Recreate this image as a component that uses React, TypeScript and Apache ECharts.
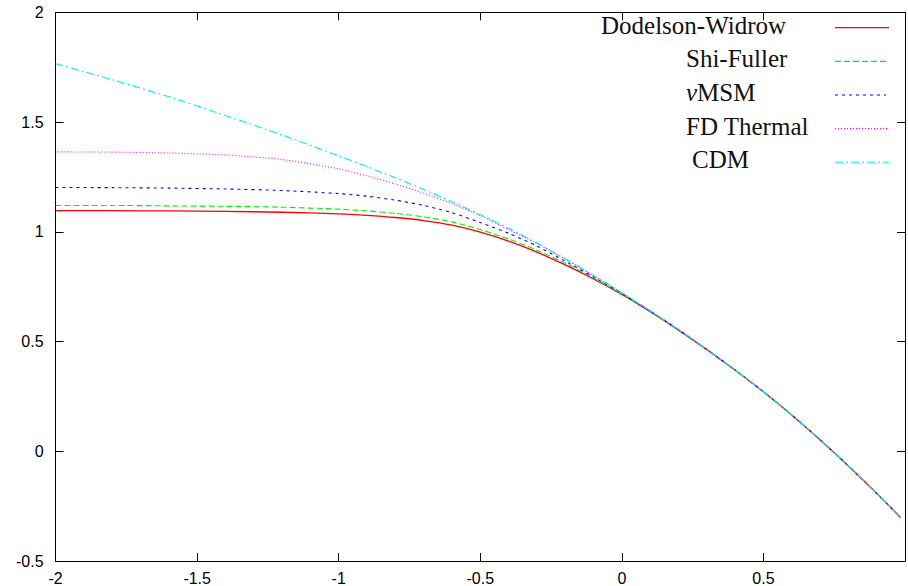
import React, { useEffect, useRef } from "react";
import * as echarts from "echarts";

const xs = [-2, -1.8, -1.6, -1.4, -1.2, -1.0, -0.9, -0.8, -0.7, -0.6, -0.5, -0.4, -0.3, -0.2, -0.1, 0, 0.1, 0.2, 0.3, 0.4, 0.5, 0.6, 0.7, 0.8, 0.9, 0.985];

const dodelsonWidrow = [1.096, 1.096, 1.095, 1.093, 1.089, 1.082, 1.075, 1.065, 1.051, 1.03, 0.998, 0.957, 0.907, 0.849, 0.785, 0.714, 0.636, 0.552, 0.463, 0.369, 0.271, 0.165, 0.052, -0.067, -0.192, -0.303];
const shiFuller = [1.12, 1.12, 1.118, 1.116, 1.112, 1.103, 1.095, 1.084, 1.068, 1.045, 1.01, 0.967, 0.916, 0.857, 0.79, 0.717, 0.638, 0.553, 0.464, 0.37, 0.271, 0.165, 0.052, -0.067, -0.192, -0.303];
const nuMSM = [1.202, 1.201, 1.199, 1.195, 1.188, 1.174, 1.162, 1.144, 1.12, 1.087, 1.042, 0.993, 0.935, 0.866, 0.794, 0.719, 0.639, 0.554, 0.464, 0.37, 0.271, 0.165, 0.052, -0.067, -0.192, -0.303];
const fdThermal = [1.364, 1.363, 1.359, 1.35, 1.329, 1.287, 1.255, 1.218, 1.176, 1.128, 1.074, 1.01, 0.946, 0.876, 0.8, 0.722, 0.64, 0.554, 0.464, 0.37, 0.271, 0.165, 0.052, -0.067, -0.192, -0.303];
const cdm = [1.766, 1.693, 1.615, 1.53, 1.441, 1.346, 1.297, 1.246, 1.193, 1.137, 1.078, 1.016, 0.949, 0.877, 0.801, 0.722, 0.64, 0.554, 0.464, 0.37, 0.271, 0.165, 0.052, -0.067, -0.192, -0.303];

const seriesNames = ["Dodelson-Widrow", "Shi-Fuller", "νMSM", "FD Thermal", "CDM"];
const seriesValues = [dodelsonWidrow, shiFuller, nuMSM, fdThermal, cdm];
const seriesColors = ["#ff0000", "#00f000", "#0000ff", "#ff00ff", "#00f0f0"];
const seriesDash: any[] = ["solid", [6, 3], [3, 4], [1, 2], [8, 3, 2, 3]];
const seriesWidths = [1.3, 1.1, 1.1, 1.1, 1.1];

const legendTextX = [601, 686, 686, 686, 692];
const legendLineX1 = [835, 835, 835, 835, 835];
const legendLineX2 = [889, 889, 886, 889, 889];

export default function App() {
  const ref = useRef<HTMLDivElement>(null);
  useEffect(() => {
    if (!ref.current) return;
    const chart = echarts.init(ref.current, null, { renderer: "svg" });

    const series = seriesValues.map((vals, i) => ({
      name: seriesNames[i],
      type: "line",
      xAxisIndex: 0,
      yAxisIndex: 0,
      data: xs.map((x, j) => [x, vals[j]]),
      showSymbol: false,
      smooth: 0.25,
      lineStyle: { color: seriesColors[i], width: seriesWidths[i], type: seriesDash[i] },
      z: 2 + i,
    }));

    const graphics: any[] = [];
    seriesNames.forEach((name, i) => {
      const ly = 27.7 + i * 33.65;
      graphics.push({
        type: "text",
        x: legendTextX[i],
        y: ly - 2.4,
        style: {
          text: i === 2 ? "{i|ν}MSM" : name,
          font: "25px 'Liberation Serif'",
          fill: "#111",
          align: "left",
          verticalAlign: "middle",
          rich: { i: { fontStyle: "italic", fontFamily: "Liberation Serif", fontSize: 25, fill: "#111" } },
        },
      });
      graphics.push({
        type: "line",
        shape: { x1: legendLineX1[i], y1: ly, x2: legendLineX2[i], y2: ly },
        style: { stroke: seriesColors[i], lineWidth: seriesWidths[i], lineDash: seriesDash[i] === "solid" ? null : seriesDash[i] },
      });
    });

    const labelStyle = { fontFamily: "Liberation Sans", fontSize: 16, color: "#000" };
    chart.setOption({
      animation: false,
      backgroundColor: "#fff",
      grid: { left: 55.6, right: -4.3, top: 12.3, bottom: 23.3, containLabel: false },
      xAxis: [
        {
          type: "value", min: -2, max: 1, interval: 0.5, position: "bottom",
          axisLine: { show: true, onZero: false, lineStyle: { color: "#000", width: 1 } },
          axisTick: { show: true, inside: true, length: 8, lineStyle: { color: "#000" } },
          axisLabel: { ...labelStyle, margin: 9, formatter: (v: number) => (v >= 1 ? "" : String(v)) },
          splitLine: { show: false },
        },
        {
          type: "value", min: -2, max: 1, interval: 0.5, position: "top",
          axisLine: { show: true, onZero: false, lineStyle: { color: "#000", width: 1 } },
          axisTick: { show: true, inside: true, length: 8, lineStyle: { color: "#000" } },
          axisLabel: { show: false },
          splitLine: { show: false },
        },
      ],
      yAxis: [
        {
          type: "value", min: -0.5, max: 2, interval: 0.5, position: "left",
          axisLine: { show: true, onZero: false, lineStyle: { color: "#000", width: 1 } },
          axisTick: { show: true, inside: true, length: 8, lineStyle: { color: "#000" } },
          axisLabel: { ...labelStyle, margin: 12 },
          splitLine: { show: false },
        },
        {
          type: "value", min: -0.5, max: 2, interval: 0.5, position: "right",
          axisLine: { show: true, onZero: false, lineStyle: { color: "#000", width: 1 } },
          axisTick: { show: true, inside: true, length: 8, lineStyle: { color: "#000" } },
          axisLabel: { show: false },
          splitLine: { show: false },
        },
      ],
      series,
      graphic: { elements: graphics },
    });
    return () => chart.dispose();
  }, []);
  return <div ref={ref} style={{ position: "absolute", left: 0, top: 0, width: 908, height: 586 }} />;
}
